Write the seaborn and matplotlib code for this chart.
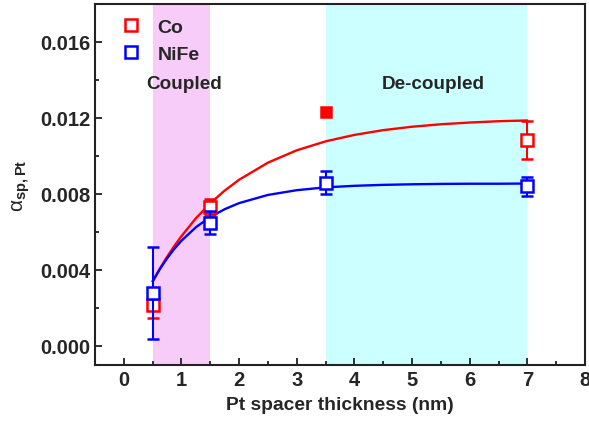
import numpy as np
import pandas as pd
import matplotlib
matplotlib.use("Agg")
import matplotlib.pyplot as plt
import seaborn as sns

# ---- data ----
thickness = [0.5, 1.5, 3.5, 7.0]
co_alpha = [0.00216, 0.00731, 0.01232, 0.01085]
co_err = [0.0007, 0.0004, 0.0, 0.0010]
nife_alpha = [0.00279, 0.00648, 0.00860, 0.00840]
nife_err = [0.0024, 0.0006, 0.0006, 0.0005]

fit_x = [0.5, 0.625, 0.75, 0.875, 1.0, 1.25, 1.5, 1.75, 2.0, 2.5, 3.0, 3.5, 4.0, 4.5, 5.0, 5.5, 6.0, 6.5, 7.0]
co_fit = [0.00340, 0.00407, 0.00469, 0.00526, 0.00578, 0.00672, 0.00751, 0.00818, 0.00875, 0.00965,
          0.01030, 0.01077, 0.01111, 0.01136, 0.01154, 0.01167, 0.01176, 0.01183, 0.01187]
nife_fit = [0.00340, 0.00405, 0.00461, 0.00511, 0.00554, 0.00625, 0.00679, 0.00720, 0.00752, 0.00795,
            0.00820, 0.00835, 0.00843, 0.00848, 0.00851, 0.00853, 0.00854, 0.00854, 0.00855]

coupled_span = (0.5, 1.5)
decoupled_span = (3.5, 7.0)
x_ticks = [0, 1, 2, 3, 4, 5, 6, 7, 8]
y_ticks = [0.000, 0.004, 0.008, 0.012, 0.016]

sns.set_style("ticks")
plt.rcParams['font.family'] = ['Liberation Sans', 'DejaVu Sans']
plt.rcParams['mathtext.fontset'] = 'custom'
plt.rcParams['mathtext.rm'] = 'Liberation Sans'
plt.rcParams['mathtext.bf'] = 'Liberation Sans:bold'

fig = plt.figure(figsize=(5.89, 4.27), dpi=100)
ax = fig.add_axes([0.1613, 0.1429, 0.9932 - 0.1613, 0.9883 - 0.1429])

ax.axvspan(*coupled_span, color='#F8CCF8', lw=0, zorder=0)
ax.axvspan(*decoupled_span, color='#CCFFFF', lw=0, zorder=0)

fit_df = pd.DataFrame({'x': fit_x * 2,
                       'y': co_fit + nife_fit,
                       's': ['Co'] * len(fit_x) + ['NiFe'] * len(fit_x)})
sns.lineplot(data=fit_df, x='x', y='y', hue='s', palette={'Co': '#FF0000', 'NiFe': '#0000FF'},
             sort=False, lw=1.7, legend=False, ax=ax, zorder=2)

red, blue = '#FF0000', '#0000FF'
for x, y, e in zip(thickness, co_alpha, co_err):
    filled = (x == 3.5)
    ax.errorbar([x], [y], yerr=[e] if e > 0 else None, fmt='s', ms=8 if not filled else 7.5,
                mfc=red if filled else 'white', mec=red, mew=1.8, ecolor=red,
                elinewidth=1.5, capsize=4.5, capthick=1.5, zorder=3)
for x, y, e in zip(thickness, nife_alpha, nife_err):
    ax.errorbar([x], [y], yerr=[e], fmt='s', ms=8, mfc='white', mec=blue, mew=1.8,
                ecolor=blue, elinewidth=1.5, capsize=4.5, capthick=1.5, zorder=4)

h1 = ax.plot([], [], 's', ms=8, mfc='white', mec=red, mew=1.8, ls='none')[0]
h2 = ax.plot([], [], 's', ms=8, mfc='white', mec=blue, mew=1.8, ls='none')[0]
ax.legend([h1, h2], ['Co', 'NiFe'], loc='upper left', frameon=False,
          bbox_to_anchor=(0.005, 1.0), handletextpad=0.35, borderaxespad=0.35,
          labelspacing=0.45, prop={'weight': 'bold', 'size': 14})

ax.text(1.05, 0.0138, 'Coupled', ha='center', va='center', fontsize=13.6, fontweight='bold')
ax.text(5.37, 0.0138, 'De-coupled', ha='center', va='center', fontsize=13.6, fontweight='bold')

ax.set_xlim(-0.5, 8)
ax.set_ylim(-0.001, 0.018)
ax.set_xticks(x_ticks)
ax.set_yticks(y_ticks)
ax.set_yticklabels([f'{v:.3f}' for v in y_ticks])
ax.set_xticks(np.arange(-0.5, 8.01, 0.5)[1:], minor=True)
ax.set_yticks([0.002, 0.006, 0.010, 0.014, 0.018], minor=True)
ax.tick_params(which='both', direction='in', width=1.3, labelsize=14.5, color='#222222')
ax.tick_params(which='major', length=5)
ax.tick_params(which='minor', length=3)
for lab in ax.get_xticklabels() + ax.get_yticklabels():
    lab.set_fontweight('bold')
for sp in ax.spines.values():
    sp.set_linewidth(1.5)
    sp.set_color('#222222')

ax.set_xlabel('Pt spacer thickness (nm)', fontsize=13.9, fontweight='bold', labelpad=5)
ax.set_ylabel(r'α$_{\mathbf{sp,Pt}}$', fontsize=15, labelpad=6)

fig.savefig('out.png', dpi=100)
